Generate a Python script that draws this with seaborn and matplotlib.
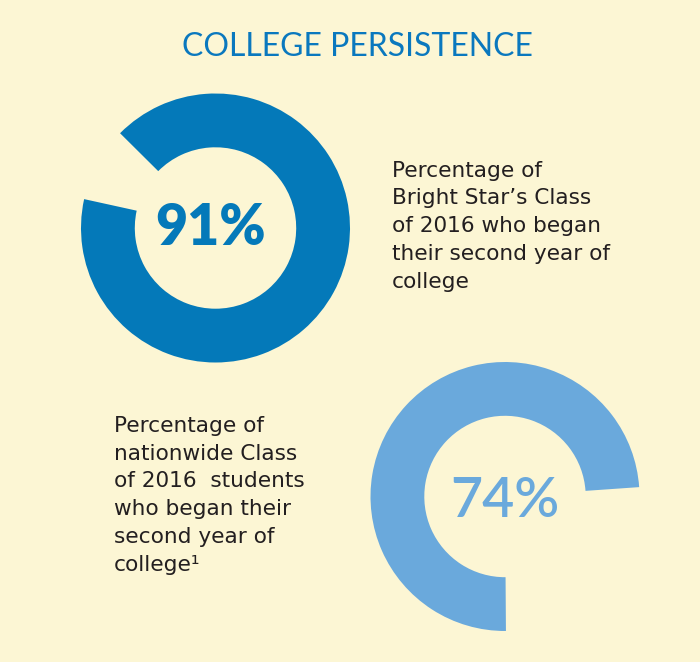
import matplotlib
matplotlib.use("Agg")
import matplotlib.pyplot as plt
import seaborn as sns

# data
labels = ["Bright Star Class of 2016", "Nationwide Class of 2016"]
persist_pct = [91, 74]
ring_colors = ["#0479b9", "#6aa9dc"]
start_angles = [167.6, 4.0]   # where the filled arc starts (deg)
captions = [
    "Percentage of\nBright Star\u2019s Class\nof 2016 who began\ntheir second year of\ncollege",
    "Percentage of\nnationwide Class\nof 2016  students\nwho began their\nsecond year of\ncollege\u00b9",
]

BG = "#fcf6d4"
W, H = 700, 662

sns.set_theme(style="white", rc={"figure.facecolor": BG, "axes.facecolor": BG,
                                 "savefig.facecolor": BG})


def fx(x, y):
    return x / W, 1 - y / H


def donut(fig, cx, cy, r, pct, color, start, label_kw):
    ax = fig.add_axes([(cx - r) / W, (H - cy - r) / H, 2 * r / W, 2 * r / H])
    ax.pie([pct, 100 - pct], colors=[color, "none"], startangle=start,
           counterclock=True, radius=1.0,
           wedgeprops=dict(width=0.4, linewidth=0))
    ax.set_xlim(-1, 1)
    ax.set_ylim(-1, 1)
    ax.set_aspect("equal")
    ax.axis("off")
    ax.text(label_kw.pop("dx", 0), label_kw.pop("dy", 0), f"{pct}%", color=color,
            ha="center", va="center", **label_kw)
    return ax


fig = plt.figure(figsize=(W / 100, H / 100), dpi=100)

donut(fig, 215.5, 228, 134.5, persist_pct[0], ring_colors[0], start_angles[0],
      dict(fontsize=40, fontweight="heavy", family="Lato", dx=-0.04))
donut(fig, 505, 496.5, 134.5, persist_pct[1], ring_colors[1], start_angles[1],
      dict(fontsize=40, fontweight="semibold", family="Lato", dy=-0.03))

fig.text(*fx(357, 47), "COLLEGE PERSISTENCE", color="#0a78be", ha="center",
         va="center", fontsize=23, family="Lato")

# va="baseline" pins the last line's baseline
body = dict(color="#231f20", fontsize=15.6, family="DejaVu Sans",
            ha="left", va="baseline", linespacing=1.49)
fig.text(*fx(392, 288), captions[0], **body)
fig.text(*fx(114, 571), captions[1], **body)

fig.savefig("out.png", dpi=100)
